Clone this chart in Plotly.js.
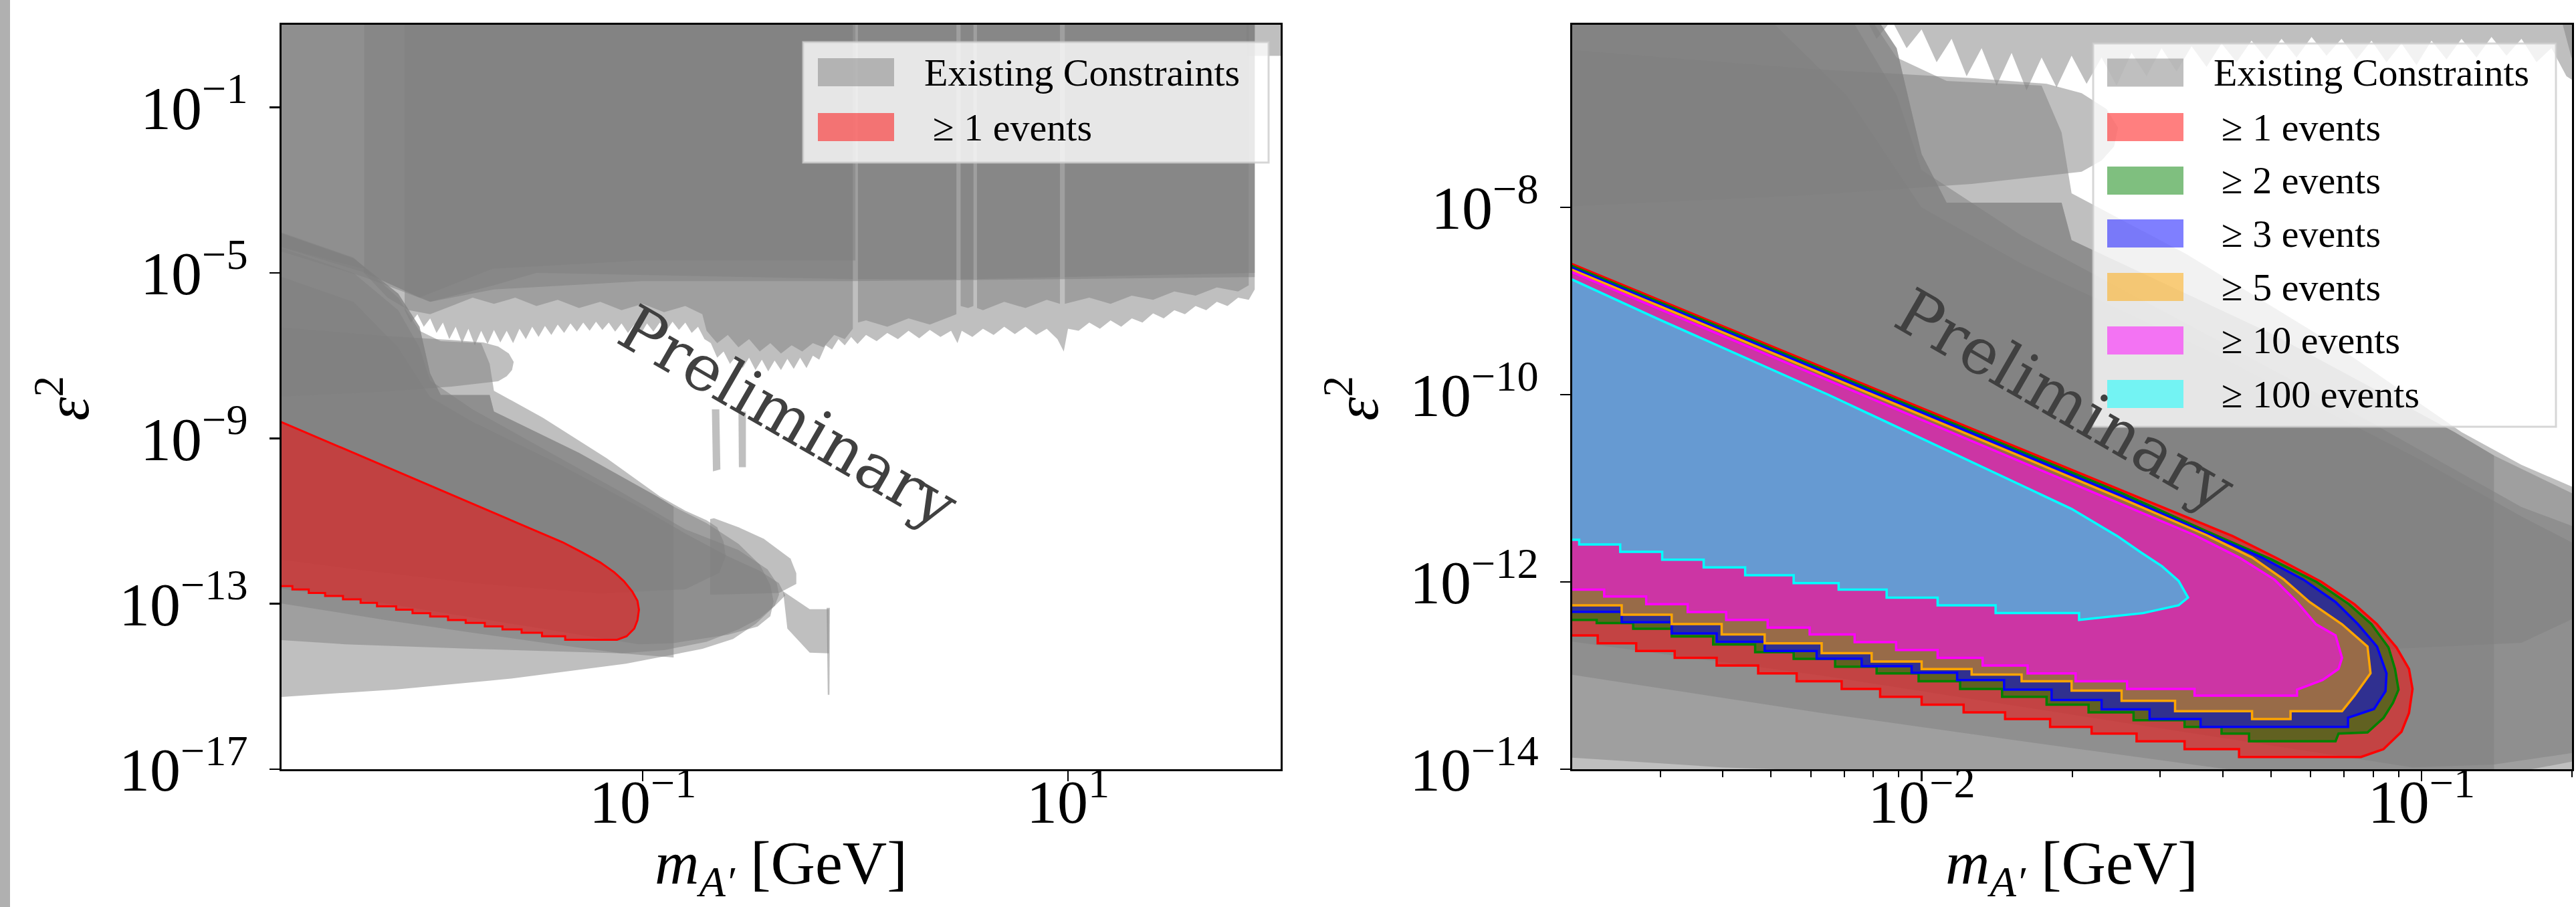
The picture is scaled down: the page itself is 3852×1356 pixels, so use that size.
<!DOCTYPE html>
<html>
<head>
<meta charset="utf-8">
<script src="https://cdn.plot.ly/plotly-3.0.1.min.js"></script>
<style>html,body{margin:0;padding:0;background:#fff;}#plot{width:3852px;height:1356px;}</style>
</head>
<body>
<div id="plot"></div>
<script>
// ---------- DATA (log10 of mass [GeV] and log10 of epsilon^2) ----------
// Existing constraints (grey, alpha 0.5 each)
const c1_logM = [-2.75,-2.159,-1.619,-1.079,-0.719,-0.575,-0.467,-0.377,-0.33,-0.36,-0.45,-0.6,-0.8,-1.0,-1.4,-1.8,-2.0,-2.15,-2.36,-2.75];
const c1_logE = [-15.27,-15.07,-14.81,-14.45,-14.09,-13.85,-13.48,-13.04,-12.8,-12.5,-12.2,-11.85,-11.3,-10.7,-9.6,-8.6,-8.0,-6.8,-5.7,-5.0];
const c2_logM = [-2.75,-2.36,-2.15,-2.05,-2.0,-1.8,-1.45,-1.1,-0.8,-0.55,-0.413,-0.37,-0.359,-0.38,-0.45,-0.55,-0.7,-0.9,-1.1,-1.8,-2.4,-2.75];
const c2_logE = [-4.3,-5.0,-5.9,-6.8,-7.6,-8.3,-9.3,-10.3,-11.2,-11.7,-12.17,-12.5,-12.78,-13.05,-13.35,-13.62,-13.92,-14.12,-14.2,-14.09,-13.98,-13.86];
const c3_logM = [-2.75,-2.36,-2.15,-2.05,-2.0,-1.95,-1.72,-1.70,-1.3,-0.934,-0.855,-0.855,-1.1,-1.416,-1.8,-2.2,-2.75];
const c3_logE = [-3.95,-4.65,-5.5,-6.3,-7.43,-7.95,-7.95,-8.35,-9.35,-10.40,-10.65,-14.3,-14.2,-13.98,-13.7,-13.4,-12.95];
const c4_logM = [-2.75,-2.36,-2.15,-2.05,-2.0,-1.95,-1.72,-1.70,-1.3,-0.934,-0.855,-0.7,-0.55,-0.45,-0.40,-0.385,-0.40,-0.46,-0.6,-0.855,-1.018,-1.6,-2.2,-2.75];
const c4_logE = [-3.95,-4.65,-5.5,-6.3,-7.43,-7.95,-7.95,-8.35,-9.35,-10.40,-10.65,-11.05,-11.55,-12.05,-12.55,-12.95,-13.3,-13.55,-13.75,-13.95,-13.98,-13.5,-13.0,-12.6];
const c5_logM = [-2.75,-2.36,-2.15,-2.05,-1.95,-1.76,-1.72,-1.70,-1.47,-1.17,-0.92,-0.80,-0.70,-0.65,-0.62,-0.61,-0.64,-0.8,-1.2,-1.8,-2.3,-2.75];
const c5_logE = [-3.93,-4.63,-5.6,-6.4,-6.65,-6.7,-7.2,-7.85,-8.50,-9.48,-10.40,-10.75,-10.98,-11.15,-11.5,-11.85,-12.25,-12.65,-12.75,-12.5,-12.2,-11.9];
const c6_logM = [-2.75,-2.232,-1.9,-1.75,-1.68,-1.63,-1.607,-1.615,-1.64,-1.68,-1.9,-2.232,-2.75];
const c6_logE = [-6.3,-6.52,-6.62,-6.68,-6.78,-6.95,-7.15,-7.35,-7.5,-7.62,-7.75,-7.87,-8.0];
const c7_logM = [-0.34,-0.215,-0.125,-0.125,-0.215,-0.32];
const c7_logE = [-12.7,-13.13,-13.13,-14.2,-14.18,-13.6];
const c8_logM = [-0.135,-0.12,-0.122,-0.13];
const c8_logE = [-13.1,-13.1,-15.2,-15.2];
const c9_logM = [-0.683,-0.665,-0.55,-0.431,-0.305,-0.278,-0.278,-0.359,-0.665,-0.683];
const c9_logE = [-10.95,-10.93,-11.15,-11.43,-11.91,-12.26,-12.52,-12.74,-12.78,-12.78];
const c10_logM = [-0.675,-0.64,-0.635,-0.67];
const c10_logE = [-8.3,-8.3,-9.75,-9.8];
const c11_logM = [-0.55,-0.515,-0.515,-0.548];
const c11_logE = [-8.35,-8.35,-9.7,-9.7];
// collider / prompt searches at large coupling
const tA_logM = [-2.75,1.878,1.878,1.0,0.0,-1.0,-1.7,-2.0,-2.31,-2.75];
const tA_logE = [2,2,-5.1,-5.15,-5.2,-5.2,-5.4,-5.7,-5.1,-4.4];
const tB_logM = [-2.75,0.0,0.0,-1.0,-1.705,-2.05,-2.3,-2.75];
const tB_logE = [2,2,-4.7,-4.7,-4.9,-5.6,-5.0,-4.3];
const tD_logM = [-2.75,-2.31,-2.31,-2.75];
const tD_logE = [2,2,-4.9,-4.3];
const tC_logM = [-2.31,-2.0,-1.7,-1.5,-0.5,-0.012,-0.012,0.012,0.012,0.475,0.475,0.495,0.495,0.555,0.555,0.572,0.572,0.962,0.962,0.985,0.985,1.878,1.878,-2.31];
const tC_logE = [-5.0,-5.7,-5.3,-5.0,-5.1,-5.15,2,2,-5.15,-5.15,2,2,-5.15,-5.15,2,2,-5.15,-5.1,2,2,-5.1,-5.0,2,2];
const t2_logM = [-2.31,-2.2,-2.1,-2.0,-1.9,-1.8,-1.7,-1.6,-1.5,-1.4,-1.3,-1.2,-1.1,-1.0,-0.9,-0.8,-0.72,-0.70,-0.65,-0.6,-0.55,-0.5,-0.45,-0.4,-0.35,-0.3,-0.25,-0.2,-0.15,-0.1,-0.05,-0.012,-0.012,0.012,0.012,0.05,0.15,0.25,0.35,0.45,0.475,0.475,0.495,0.495,0.53,0.555,0.555,0.572,0.572,0.6,0.7,0.8,0.9,0.962,0.962,0.985,0.985,1.1,1.2,1.3,1.4,1.5,1.6,1.7,1.8,1.85,1.85,-2.31];
const t2_logE = [-5.0,-5.6,-5.9,-6.0,-5.8,-5.6,-5.75,-5.6,-5.8,-5.65,-5.85,-5.7,-5.9,-5.75,-5.95,-5.8,-6.0,-6.4,-6.7,-6.5,-6.8,-6.6,-6.9,-6.7,-6.95,-6.75,-6.9,-6.7,-6.8,-6.5,-6.6,-6.35,2,2,-6.2,-6.15,-6.3,-6.1,-6.25,-6.05,-6.0,2,2,-5.8,-5.85,-5.8,2,2,-5.85,-5.9,-5.7,-5.85,-5.65,-5.75,2,2,-5.75,-5.6,-5.75,-5.55,-5.65,-5.45,-5.55,-5.35,-5.45,-5.3,2,2];
const t1_logM = [-2.12,-2.12,-2.09,-2.06,-2.03,-2.0,-1.97,-1.94,-1.91,-1.88,-1.85,-1.82,-1.79,-1.76,-1.73,-1.70,-1.67,-1.64,-1.61,-1.58,-1.55,-1.52,-1.49,-1.46,-1.43,-1.40,-1.37,-1.34,-1.31,-1.28,-1.25,-1.22,-1.19,-1.16,-1.13,-1.10,-1.07,-1.04,-1.01,-0.98,-0.95,-0.92,-0.89,-0.86,-0.83,-0.80,-0.77,-0.74,-0.71,-0.68,-0.65,-0.62,-0.59,-0.56,-0.53,-0.50,-0.47,-0.44,-0.41,-0.38,-0.35,-0.32,-0.29,-0.26,-0.23,-0.20,-0.17,-0.14,-0.11,-0.08,-0.05,-0.02,0.01,0.05,0.10,0.15,0.20,0.25,0.30,0.35,0.40,0.45,0.48,0.50,0.55,0.60,0.65,0.70,0.75,0.80,0.85,0.90,0.95,0.98,1.0,1.05,1.10,1.15,1.20,1.25,1.30,1.35,1.40,1.45,1.50,1.55,1.60,1.65,1.70,1.75,1.80,1.85,1.878,1.878];
const t1_logE = [2,-5.9,-6.2,-6.0,-6.3,-6.1,-6.45,-6.2,-6.6,-6.3,-6.7,-6.35,-6.75,-6.4,-6.72,-6.38,-6.68,-6.4,-6.7,-6.35,-6.6,-6.3,-6.55,-6.28,-6.5,-6.25,-6.45,-6.22,-6.42,-6.2,-6.4,-6.18,-6.38,-6.2,-6.42,-6.22,-6.45,-6.25,-6.48,-6.22,-6.42,-6.2,-6.4,-6.18,-6.38,-6.2,-6.45,-6.3,-6.6,-6.7,-7.05,-6.9,-7.2,-7.0,-7.3,-7.05,-7.35,-7.1,-7.38,-7.12,-7.35,-7.08,-7.32,-7.05,-7.3,-7.0,-7.1,-6.75,-6.85,-6.6,-6.75,-6.55,-6.72,-6.5,-6.65,-6.45,-6.6,-6.4,-6.58,-6.38,-6.55,-6.4,-6.7,-6.4,-6.55,-6.35,-6.5,-6.3,-6.48,-6.3,-6.5,-6.35,-6.6,-6.9,-6.35,-6.4,-6.2,-6.35,-6.15,-6.3,-6.1,-6.2,-5.98,-6.1,-5.9,-6.0,-5.8,-5.9,-5.7,-5.8,-5.6,-5.65,-5.4,2];
const tE_logM = [1.84,2.1,2.1,1.84];
const tE_logE = [2,2,0.25,0.25];

// Expected signal contours (>= N events): upper edge + tip, then the stepped lower edge (step corners, right to left)
const ev1_upM = [-2.72,-2.3,-1.9,-1.6,-1.378,-1.288,-1.20,-1.134,-1.089,-1.05,-1.025,-1.018,-1.025,-1.04,-1.076,-1.121];
const ev1_upE = [-8.561,-9.484,-10.363,-11.022,-11.51,-11.75,-12.0,-12.238,-12.452,-12.7,-12.93,-13.143,-13.40,-13.6,-13.786,-13.869];
const ev1_loM = [-1.365,-1.474,-1.57,-1.66,-1.743,-1.833,-1.916,-2.0,-2.083,-2.16,-2.25,-2.327,-2.41,-2.494,-2.571,-2.648,-2.72];
const ev1_loE = [-13.869,-13.786,-13.702,-13.619,-13.548,-13.464,-13.393,-13.31,-13.226,-13.143,-13.06,-12.976,-12.893,-12.81,-12.738,-12.655,-12.571];
const ev2_upM = [-2.72,-2.3,-1.9,-1.6,-1.40,-1.30,-1.21,-1.145,-1.10,-1.066,-1.053,-1.046,-1.057,-1.076,-1.108,-1.166,-1.172];
const ev2_upE = [-8.58,-9.505,-10.385,-11.05,-11.53,-11.76,-12.0,-12.238,-12.452,-12.7,-12.93,-13.15,-13.29,-13.452,-13.607,-13.619,-13.702];
const ev2_loM = [-1.345,-1.40,-1.474,-1.576,-1.666,-1.75,-1.839,-1.923,-2.006,-2.09,-2.173,-2.256,-2.333,-2.417,-2.5,-2.577,-2.65,-2.72];
const ev2_loE = [-13.702,-13.62,-13.548,-13.476,-13.393,-13.31,-13.226,-13.143,-13.06,-12.976,-12.905,-12.821,-12.75,-12.667,-12.583,-12.5,-12.44,-12.405];
const ev3_upM = [-2.72,-2.3,-1.9,-1.6,-1.42,-1.32,-1.236,-1.172,-1.127,-1.089,-1.07,-1.072,-1.095,-1.147];
const ev3_upE = [-8.60,-9.525,-10.41,-11.08,-11.5,-11.738,-11.976,-12.214,-12.452,-12.69,-12.976,-13.167,-13.357,-13.45];
const ev3_loM = [-1.147,-1.442,-1.544,-1.64,-1.74,-1.835,-1.929,-2.02,-2.12,-2.21,-2.314,-2.41,-2.5,-2.6,-2.72];
const ev3_loE = [-13.548,-13.548,-13.464,-13.36,-13.26,-13.15,-13.048,-12.97,-12.9,-12.82,-12.738,-12.64,-12.55,-12.43,-12.32];
const ev5_upM = [-2.72,-2.3,-1.9,-1.6,-1.43,-1.339,-1.275,-1.224,-1.159,-1.108,-1.102,-1.134,-1.159];
const ev5_upE = [-8.62,-9.55,-10.44,-11.11,-11.5,-11.738,-11.976,-12.214,-12.452,-12.69,-12.976,-13.214,-13.381];
const ev5_loM = [-1.262,-1.262,-1.339,-1.339,-1.493,-1.60,-1.70,-1.80,-1.90,-2.0,-2.1,-2.2,-2.314,-2.4,-2.5,-2.6,-2.72];
const ev5_loE = [-13.381,-13.464,-13.464,-13.381,-13.381,-13.27,-13.16,-13.06,-12.99,-12.93,-12.85,-12.76,-12.655,-12.56,-12.45,-12.35,-12.25];
const ev10_upM = [-2.72,-2.3,-1.9,-1.6,-1.454,-1.365,-1.294,-1.249,-1.211,-1.172,-1.159,-1.166,-1.198,-1.249,-1.249];
const ev10_upE = [-8.645,-9.59,-10.49,-11.17,-11.5,-11.738,-11.976,-12.214,-12.452,-12.571,-12.81,-12.929,-13.048,-13.15,-13.214];
const ev10_loM = [-1.454,-1.589,-1.692,-1.788,-1.878,-1.968,-2.051,-2.134,-2.224,-2.308,-2.391,-2.468,-2.551,-2.635,-2.72];
const ev10_loE = [-13.214,-13.143,-13.06,-12.976,-12.893,-12.81,-12.726,-12.643,-12.56,-12.488,-12.405,-12.321,-12.238,-12.155,-12.083];
const ev100_upM = [-2.72,-2.528,-2.187,-1.846,-1.70,-1.608,-1.563,-1.519,-1.486,-1.467,-1.486,-1.557,-1.685];
const ev100_upE = [-8.72,-9.19,-10.0,-10.857,-11.22,-11.512,-11.679,-11.833,-11.988,-12.167,-12.25,-12.333,-12.405];
const ev100_loM = [-1.852,-1.968,-2.07,-2.166,-2.256,-2.353,-2.436,-2.519,-2.603,-2.685,-2.72];
const ev100_loE = [-12.333,-12.25,-12.167,-12.083,-12.012,-11.929,-11.845,-11.762,-11.679,-11.60,-11.55];

// Tick labels
const leftXTicks = [0.1, 10];
const leftXText = ['10<sup>−1</sup>', '10<sup>1</sup>'];
const leftYTicks = [1e-1, 1e-5, 1e-9, 1e-13, 1e-17];
const leftYText = ['10<sup>−1</sup>', '10<sup>−5</sup>', '10<sup>−9</sup>', '10<sup>−13</sup>', '10<sup>−17</sup>'];
const rightXTicks = [0.01, 0.1];
const rightXText = ['10<sup>−2</sup>', '10<sup>−1</sup>'];
const rightXMinor = [0.003,0.004,0.005,0.006,0.007,0.008,0.009,0.02,0.03,0.04,0.05,0.06,0.07,0.08,0.09,0.2];
const rightYTicks = [1e-8, 1e-10, 1e-12, 1e-14];
const rightYText = ['10<sup>−8</sup>', '10<sup>−10</sup>', '10<sup>−12</sup>', '10<sup>−14</sup>'];

// Legend entries
const legendLeftLabels = ['Existing Constraints', '≥ 1 events'];
const legendLeftColors = ['rgba(128,128,128,0.5)', 'rgba(255,0,0,0.5)'];
const legendRightLabels = ['Existing Constraints', '≥ 1 events', '≥ 2 events', '≥ 3 events', '≥ 5 events', '≥ 10 events', '≥ 100 events'];
const legendRightColors = ['rgba(128,128,128,0.5)', 'rgba(255,0,0,0.5)', 'rgba(0,128,0,0.5)', 'rgba(0,0,255,0.5)', 'rgba(255,165,0,0.5)', 'rgba(255,0,255,0.5)', 'rgba(0,255,255,0.5)'];

// ---------- BUILD ----------
const pow10 = a => a.map(v => Math.pow(10, v));
// join the upper edge with the stepped lower edge (each lower corner is the left end of a flat step)
function contour(upM, upE, loM, loE) {
  const m = upM.slice(), e = upE.slice();
  let xPrev = upM[upM.length - 1];
  for (let i = 0; i < loM.length; i++) { m.push(xPrev, loM[i]); e.push(loE[i], loE[i]); xPrev = loM[i]; }
  return [m, e];
}
const greyPolys = [
  [c1_logM,c1_logE],[c2_logM,c2_logE],[c3_logM,c3_logE],[c4_logM,c4_logE],[c5_logM,c5_logE],
  [c6_logM,c6_logE],[c7_logM,c7_logE],[c8_logM,c8_logE],[c9_logM,c9_logE],[c10_logM,c10_logE],[c11_logM,c11_logE],
  [tA_logM,tA_logE],[tB_logM,tB_logE],[tD_logM,tD_logE],[tC_logM,tC_logE],[t2_logM,t2_logE],[t1_logM,t1_logE],[tE_logM,tE_logE]
];
const eventSets = [
  ['≥ 1 events', contour(ev1_upM, ev1_upE, ev1_loM, ev1_loE), 'rgba(255,0,0,0.5)', 'red'],
  ['≥ 2 events', contour(ev2_upM, ev2_upE, ev2_loM, ev2_loE), 'rgba(0,128,0,0.5)', 'green'],
  ['≥ 3 events', contour(ev3_upM, ev3_upE, ev3_loM, ev3_loE), 'rgba(0,0,255,0.5)', 'blue'],
  ['≥ 5 events', contour(ev5_upM, ev5_upE, ev5_loM, ev5_loE), 'rgba(255,165,0,0.5)', 'orange'],
  ['≥ 10 events', contour(ev10_upM, ev10_upE, ev10_loM, ev10_loE), 'rgba(255,0,255,0.5)', 'magenta'],
  ['≥ 100 events', contour(ev100_upM, ev100_upE, ev100_loM, ev100_loE), 'rgba(0,255,255,0.5)', 'cyan']
];
const traces = [];
[['x','y'],['x2','y2']].forEach(([xa,ya]) => {
  greyPolys.forEach(([m,e]) => traces.push({
    type:'scatter', mode:'none', x:pow10(m), y:pow10(e), fill:'toself',
    fillcolor:'rgba(128,128,128,0.5)', xaxis:xa, yaxis:ya, hoverinfo:'skip', showlegend:false, name:'Existing Constraints'
  }));
});
const red = eventSets[0][1];
traces.push({type:'scatter', mode:'lines', x:pow10(red[0]), y:pow10(red[1]), fill:'toself',
  fillcolor:'rgba(255,0,0,0.5)', line:{color:'red', width:3}, xaxis:'x', yaxis:'y', hoverinfo:'skip', showlegend:false, name:'≥ 1 events'});
eventSets.forEach(([nm,[m,e],fc,lc]) => traces.push({type:'scatter', mode:'lines', x:pow10(m), y:pow10(e), fill:'toself',
  fillcolor:fc, line:{color:lc, width:3.5}, xaxis:'x2', yaxis:'y2', hoverinfo:'skip', showlegend:false, name:nm}));

const W = 3852, H = 1356;
const px = X => X / W, py = Y => 1 - Y / H;
const serif = 'Liberation Serif, Times New Roman, serif';
const axBase = {type:'log', showline:true, linecolor:'black', linewidth:3, mirror:true, ticks:'outside', ticklen:15,
  tickwidth:2.5, tickcolor:'black', showgrid:false, zeroline:false, tickmode:'array',
  tickfont:{family:serif, size:92, color:'black'}, fixedrange:true};

const shapes = [{type:'rect', xref:'paper', yref:'paper', x0:0, x1:px(15), y0:0, y1:1, fillcolor:'#b0b0b0', line:{width:0}, layer:'below'}];
const annotations = [];
function legend(box, rows, swX, txX, labels, colors) {
  shapes.push({type:'rect', xref:'paper', yref:'paper', x0:px(box[0]), x1:px(box[1]), y0:py(box[3]), y1:py(box[2]),
    fillcolor:'rgba(255,255,255,0.8)', line:{color:'rgba(204,204,204,0.8)', width:3}, layer:'above'});
  labels.forEach((lab, i) => {
    shapes.push({type:'rect', xref:'paper', yref:'paper', x0:px(swX[0]), x1:px(swX[1]), y0:py(rows[i]+21), y1:py(rows[i]-21),
      fillcolor:colors[i], line:{width:0}, layer:'above'});
    annotations.push({xref:'paper', yref:'paper', x:px(i===0?txX[0]:txX[1]), y:py(rows[i]), xanchor:'left', yanchor:'middle',
      text:lab, showarrow:false, font:{family:serif, size:58, color:'black'}});
  });
}
legend([1201,1897,63,243], [108,190], [1223,1337], [1380,1393], legendLeftLabels, legendLeftColors);
legend([3130,3822,65,638], [108.6,190,270,349,429,509,589], [3151,3265], [3308,3320], legendRightLabels, legendRightColors);

annotations.push({xref:'x', yref:'y', x:-0.315, y:-8.475, text:'Preliminary', showarrow:false, textangle:30,
  font:{family:'DejaVu Serif, serif', size:95, color:'#404040'}, xanchor:'center', yanchor:'middle'});
annotations.push({xref:'x2', yref:'y2', x:-1.713, y:-10.06, text:'Preliminary', showarrow:false, textangle:30,
  font:{family:'DejaVu Serif, serif', size:95, color:'#404040'}, xanchor:'center', yanchor:'middle'});
const xt = '<i>m</i><sub><i>A′</i></sub> [GeV]';
annotations.push({xref:'paper', yref:'paper', x:px(1168), y:0, text:xt, showarrow:false, xanchor:'center', yanchor:'bottom', font:{family:serif, size:92, color:'black'}});
annotations.push({xref:'paper', yref:'paper', x:px(3098), y:0, text:xt, showarrow:false, xanchor:'center', yanchor:'bottom', font:{family:serif, size:92, color:'black'}});
annotations.push({xref:'paper', yref:'paper', x:px(94), y:py(596), text:'<i>ε</i><sup>2</sup>', showarrow:false, textangle:-90, xanchor:'center', yanchor:'middle', font:{family:serif, size:90, color:'black'}});
annotations.push({xref:'paper', yref:'paper', x:px(2022), y:py(596), text:'<i>ε</i><sup>2</sup>', showarrow:false, textangle:-90, xanchor:'center', yanchor:'middle', font:{family:serif, size:90, color:'black'}});

const layout = {
  width:W, height:H, margin:{l:0, r:0, t:0, b:0}, paper_bgcolor:'white', plot_bgcolor:'white', showlegend:false,
  xaxis:Object.assign({}, axBase, {domain:[px(421), px(1915)], range:[Math.log10(0.002), 2], tickvals:leftXTicks, ticktext:leftXText, anchor:'y', ticklabelstandoff:-48}),
  yaxis:Object.assign({}, axBase, {domain:[py(1150), py(37)], range:[-17, 1], tickvals:leftYTicks, ticktext:leftYText, anchor:'x', ticklabelstandoff:14}),
  xaxis2:Object.assign({}, axBase, {domain:[px(2351), px(3846)], range:[Math.log10(0.002), Math.log10(0.2)], tickvals:rightXTicks, ticktext:rightXText, anchor:'y2', ticklabelstandoff:-48,
    minor:{tickmode:'array', tickvals:rightXMinor, ticks:'outside', ticklen:9, tickwidth:2, tickcolor:'black', showgrid:false}}),
  yaxis2:Object.assign({}, axBase, {domain:[py(1150), py(37)], range:[-14, -6.05], tickvals:rightYTicks, ticktext:rightYText, anchor:'x2', ticklabelstandoff:14}),
  shapes:shapes, annotations:annotations
};
Plotly.newPlot('plot', traces, layout, {staticPlot:true, displayModeBar:false});
</script>
</body>
</html>
